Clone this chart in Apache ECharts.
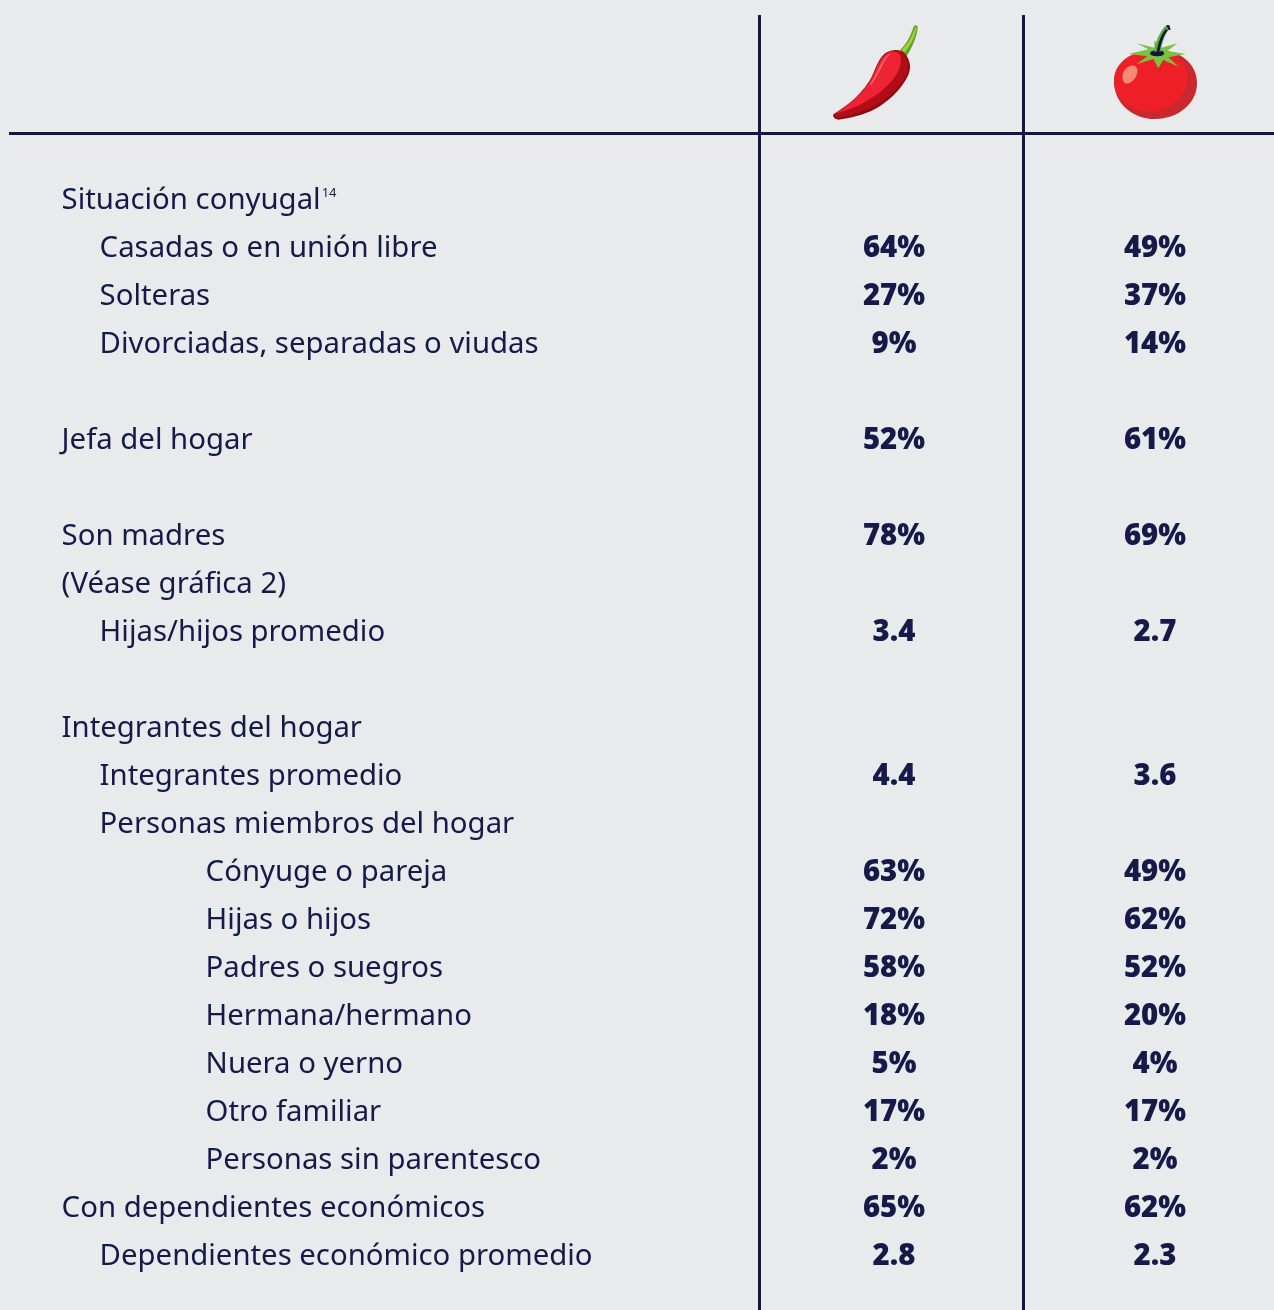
<!DOCTYPE html>
<html>
<head>
<meta charset="utf-8">
<style>html,body{margin:0;padding:0;background:#e9eaec}</style>
<script src="https://cdn.jsdelivr.net/npm/echarts@6/dist/echarts.min.js"></script>
</head>
<body>
<div id="main" style="width:1274px;height:1310px"></div>
<script>
var columns = ['Chile', 'Tomate'];
var rows = ['Situación conyugal', 'Casadas o en unión libre', 'Solteras', 'Divorciadas, separadas o viudas', '',
  'Jefa del hogar', '', 'Son madres', '(Véase gráfica 2)', 'Hijas/hijos promedio', '',
  'Integrantes del hogar', 'Integrantes promedio', 'Personas miembros del hogar', 'Cónyuge o pareja',
  'Hijas o hijos', 'Padres o suegros', 'Hermana/hermano', 'Nuera o yerno', 'Otro familiar',
  'Personas sin parentesco', 'Con dependientes económicos', 'Dependientes económico promedio'];
var levels = [0, 1, 1, 1, 0, 0, 0, 0, 0, 1, 0, 0, 1, 1, 2, 2, 2, 2, 2, 2, 2, 0, 1];
var chile = ['', '64%', '27%', '9%', '', '52%', '', '78%', '', '3.4', '', '', '4.4', '', '63%', '72%', '58%', '18%', '5%', '17%', '2%', '65%', '2.8'];
var tomate = ['', '49%', '37%', '14%', '', '61%', '', '69%', '', '2.7', '', '', '3.6', '', '49%', '62%', '52%', '20%', '4%', '17%', '2%', '62%', '2.3'];

var navy = '#171948';
var font = '"Noto Sans"';
var size = 29.33;

function serie(name, values) {
  var pts = [];
  values.forEach(function (v, i) {
    if (v !== '') pts.push({ value: [name, i], label: { formatter: v } });
  });
  return {
    type: 'scatter', name: name, data: pts, symbolSize: 0, silent: true, clip: false,
    itemStyle: { opacity: 1 },
    label: { show: true, position: 'inside', opacity: 1, color: navy, fontFamily: font, fontSize: size, fontWeight: 900 }
  };
}

function line(x1, y1, x2, y2) {
  return { type: 'line', shape: { x1: x1, y1: y1, x2: x2, y2: y2 }, style: { stroke: '#14164a', lineWidth: 3 }, silent: true };
}
function shape(d, fill) {
  return { type: 'path', shape: { pathData: d }, style: { fill: fill } };
}

// iconos dibujados a 3x, igual que el recorte
var chili = {
  type: 'group', x: 820, y: 15, scaleX: 1 / 3, scaleY: 1 / 3,
  children: [
    shape('M240,105 C262,85 272,60 281,35 C284,29 293,30 293,37 C292,62 278,95 260,124 Z', '#5fa62c'),
    shape('M246,104 C266,85 278,62 286,36 L289,37 C286,64 272,90 254,112 Z', '#a9d13f'),
    shape('M40,298 C75,275 115,250 150,195 C165,170 172,135 195,115 C215,102 245,100 258,120 C272,140 274,160 264,182 C240,230 200,262 165,282 C130,300 90,310 55,314 C44,313 38,306 40,298 Z', '#8e0a12'),
    shape('M44,298 C78,276 118,250 152,196 C167,170 174,137 197,117 C217,105 243,103 255,122 C268,142 268,162 258,182 C235,225 195,255 160,276 C125,293 85,304 58,308 C47,307 42,304 44,298 Z', '#b10d17'),
    shape('M44,296 C78,275 118,250 152,196 C167,170 174,137 197,117 C212,107 232,106 240,120 C248,140 238,172 215,198 C190,226 145,266 70,289 C58,292 50,295 44,296 Z', '#ee2333'),
    shape('M150,208 C165,185 178,155 190,135 C196,126 204,118 214,114 C205,122 198,131 193,140 C182,162 168,190 153,210 Z', '#f4626f')
  ]
};
var tomato = {
  type: 'group', x: 1100, y: 15, scaleX: 1 / 3, scaleY: 1 / 3,
  children: [
    shape('M42,200 C42,140 100,105 170,105 C240,105 291,145 291,205 C291,265 235,312 165,312 C95,312 42,262 42,200 Z', '#c9282f'),
    shape('M42,198 C42,140 100,105 165,105 C215,105 262,135 263,185 C264,240 215,290 150,290 C90,290 42,250 42,198 Z', '#ef1f27'),
    shape('M100,135 L160,128 L180,175 L195,135 L240,150 L180,120 Z', '#d6242b'),
    shape('M68,180 C70,162 88,150 103,152 C115,156 115,175 105,190 C95,205 78,210 72,202 C68,196 67,190 68,180 Z', '#fb8b70'),
    shape('M85,117 L145,103 L110,85 L163,98 L163,76 L185,98 L232,85 L202,108 L258,117 L205,127 L236,155 L190,135 L175,160 L160,132 L110,148 L142,124 Z', '#7cc242'),
    shape('M150,115 C150,108 165,106 172,106 C182,106 192,108 192,115 C192,122 182,124 172,124 C162,124 150,122 150,115 Z', '#12143f'),
    shape('M163,110 C166,82 178,50 199,31 L211,40 C196,52 186,82 182,110 Z', '#5fa83f'),
    shape('M170,112 C173,88 183,58 198,42 L203,46 C190,62 182,88 178,112 Z', '#12143f'),
    shape('M199,30 L208,31 L212,45 L205,44 Z', '#12143f')
  ]
};

var myChart = echarts.init(document.getElementById('main'));
myChart.setOption({
  backgroundColor: '#e9eaec',
  animation: false,
  grid: { left: 894, width: 261, top: 177, height: 1104 },
  xAxis: { type: 'category', data: columns, boundaryGap: false, show: false },
  yAxis: {
    type: 'category', inverse: true, data: rows,
    axisLine: { show: false }, axisTick: { show: false }, splitLine: { show: false },
    axisLabel: {
      interval: 0, align: 'left', margin: 832.4,
      color: navy, fontFamily: font, fontSize: size,
      formatter: function (v, i) {
        var s = '{l' + levels[i] + '|' + v + '}';
        if (v == 'Situación conyugal') s += '{sup|14}';
        return s;
      },
      rich: {
        l0: { padding: [0, 0, 0, 0], color: navy, fontFamily: font, fontSize: size },
        l1: { padding: [0, 0, 0, 38], color: navy, fontFamily: font, fontSize: size },
        l2: { padding: [0, 0, 0, 144], color: navy, fontFamily: font, fontSize: size },
        sup: { color: navy, fontFamily: font, fontSize: 13, verticalAlign: 'top', padding: [0, 0, 12, 1] }
      }
    }
  },
  series: [
    serie(columns[0], chile),
    serie(columns[1], tomate),
    {
      type: 'custom', coordinateSystem: 'none', data: [0], silent: true, clip: false,
      renderItem: function () { return { type: 'group', children: [chili, tomato] }; }
    }
  ],
  graphic: [
    line(759.5, 15, 759.5, 1310), line(1023.5, 15, 1023.5, 1310), line(9, 133.5, 1274, 133.5)
  ]
});
</script>
</body>
</html>
